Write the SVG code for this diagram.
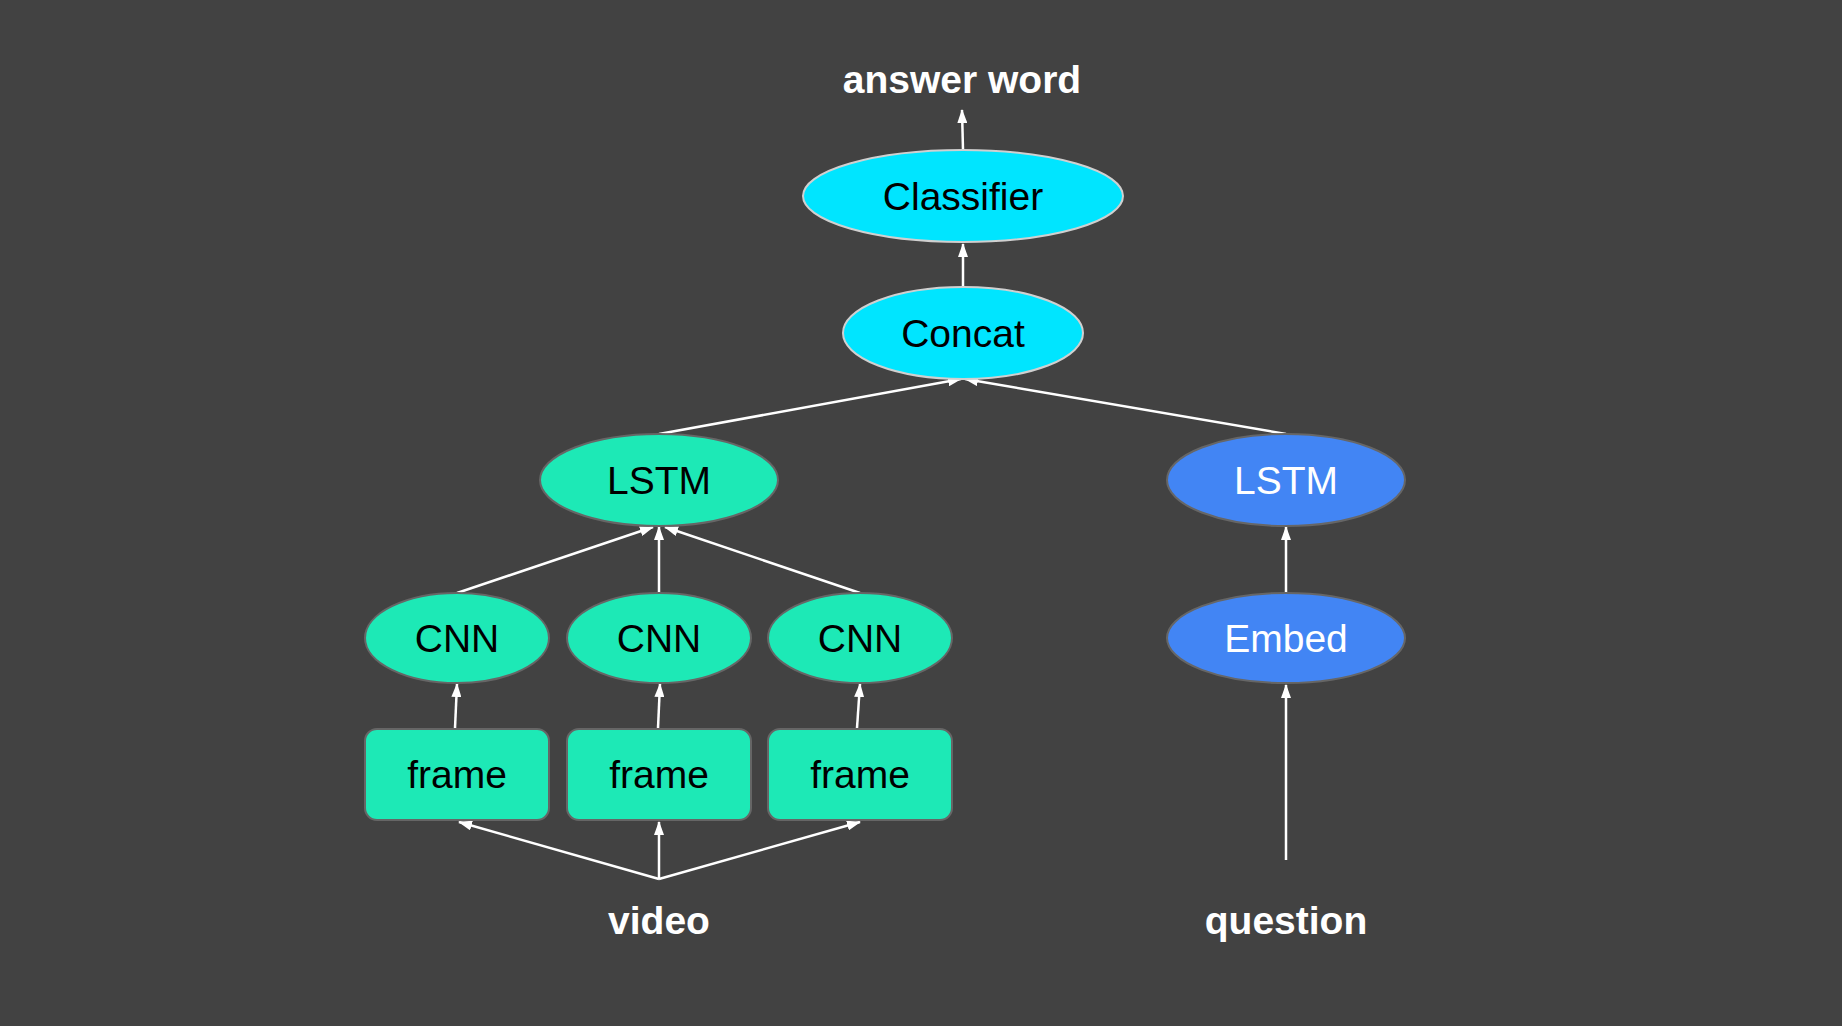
<svg xmlns="http://www.w3.org/2000/svg" width="1842" height="1026" viewBox="0 0 1842 1026">
  <style>
    .lbl { font-family: "Liberation Sans", Arial, sans-serif; font-size: 39px; text-anchor: middle; }
    .io { font-family: "Liberation Sans", Arial, sans-serif; font-size: 39px; font-weight: bold; fill: #ffffff; text-anchor: middle; }
    .cyan { fill: #00e5ff; stroke: #d0d0d0; stroke-width: 2; }
    .green { fill: #1de9b6; stroke: #666666; stroke-width: 2; }
    .blue { fill: #4285f4; stroke: #666666; stroke-width: 2; }
    .dark { fill: #000000; }
    .light { fill: #ffffff; }
    .edge { stroke: #ffffff; stroke-width: 2.5; fill: none; marker-end: url(#arr); }
  </style>
  <defs>
    <marker id="arr" markerUnits="userSpaceOnUse" markerWidth="14" markerHeight="10" refX="13" refY="5" orient="auto">
      <path d="M0,0 L14,5 L0,10 z" fill="#ffffff"/>
    </marker>
  </defs>
  <rect x="0" y="0" width="1842" height="1026" fill="#424242"/>

  <g id="connectors">
    <line class="edge" x1="963" y1="150" x2="962" y2="110"/>
    <line class="edge" x1="963" y1="287" x2="963" y2="244"/>
    <line class="edge" x1="659" y1="434" x2="961" y2="379"/>
    <line class="edge" x1="1286" y1="434" x2="965" y2="379"/>
    <line class="edge" x1="457" y1="593" x2="653" y2="527"/>
    <line class="edge" x1="659" y1="593" x2="659" y2="527"/>
    <line class="edge" x1="860" y1="593" x2="665" y2="527"/>
    <line class="edge" x1="455" y1="728" x2="457" y2="684"/>
    <line class="edge" x1="658" y1="728" x2="660" y2="684"/>
    <line class="edge" x1="857" y1="728" x2="860" y2="684"/>
    <line class="edge" x1="659" y1="879" x2="459" y2="822"/>
    <line class="edge" x1="659" y1="879" x2="659" y2="822"/>
    <line class="edge" x1="659" y1="879" x2="860" y2="822"/>
    <line class="edge" x1="1286" y1="592" x2="1286" y2="527"/>
    <line class="edge" x1="1286" y1="860" x2="1286" y2="685"/>
  </g>

  <g id="answer-word"><text class="io" x="962" y="93">answer word</text></g>

  <g id="classifier">
    <ellipse class="cyan" cx="963" cy="196" rx="160" ry="46"/>
    <text class="lbl dark" x="963" y="210">Classifier</text>
  </g>
  <g id="concat">
    <ellipse class="cyan" cx="963" cy="333" rx="120" ry="46"/>
    <text class="lbl dark" x="963" y="347">Concat</text>
  </g>

  <g id="lstm-video">
    <ellipse class="green" cx="659" cy="480" rx="119" ry="46"/>
    <text class="lbl dark" x="659" y="494">LSTM</text>
  </g>
  <g id="lstm-question">
    <ellipse class="blue" cx="1286" cy="480" rx="119" ry="46"/>
    <text class="lbl light" x="1286" y="494">LSTM</text>
  </g>

  <g id="cnn-1">
    <ellipse class="green" cx="457" cy="638" rx="92" ry="45"/>
    <text class="lbl dark" x="457" y="652">CNN</text>
  </g>
  <g id="cnn-2">
    <ellipse class="green" cx="659" cy="638" rx="92" ry="45"/>
    <text class="lbl dark" x="659" y="652">CNN</text>
  </g>
  <g id="cnn-3">
    <ellipse class="green" cx="860" cy="638" rx="92" ry="45"/>
    <text class="lbl dark" x="860" y="652">CNN</text>
  </g>
  <g id="embed">
    <ellipse class="blue" cx="1286" cy="638" rx="119" ry="45"/>
    <text class="lbl light" x="1286" y="652">Embed</text>
  </g>

  <g id="frame-1">
    <rect class="green" x="365" y="729" width="184" height="91" rx="12"/>
    <text class="lbl dark" x="457" y="788">frame</text>
  </g>
  <g id="frame-2">
    <rect class="green" x="567" y="729" width="184" height="91" rx="12"/>
    <text class="lbl dark" x="659" y="788">frame</text>
  </g>
  <g id="frame-3">
    <rect class="green" x="768" y="729" width="184" height="91" rx="12"/>
    <text class="lbl dark" x="860" y="788">frame</text>
  </g>

  <g id="video"><text class="io" x="659" y="934">video</text></g>
  <g id="question"><text class="io" x="1286" y="934">question</text></g>
</svg>
